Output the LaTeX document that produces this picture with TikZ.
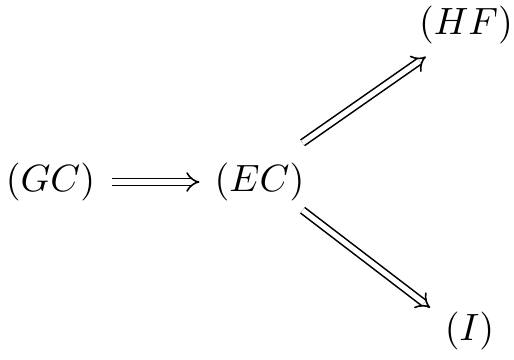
\documentclass[tikz,border=0pt]{standalone}
\usetikzlibrary{arrows.meta,calc}
\tikzset{
  lbl/.style={inner sep=0pt},
  imp/.style={double, line width=1.6pt, double distance=5.2pt, -{Implies[length=11pt,width=20pt]}}
}
\newcommand{\bigtxt}[1]{\scalebox{3.8}{$#1$}}
\begin{document}
\begin{tikzpicture}[x=1pt,y=-1pt]
\useasboundingbox (0,0) rectangle (514,359);
\node[lbl] (GC) at (50.5,182) {\bigtxt{(GC)}};
\node[lbl] (EC) at (259.5,182) {\bigtxt{(EC)}};
\node[lbl] (HF) at (466,24.5) {\bigtxt{(HF)}};
\node[lbl] (I) at (469.5,331) {\bigtxt{(I)}};
\draw[imp] ([xshift=17pt]GC.east) -- ([xshift=-15pt]EC.west);
\draw[imp] ($(EC.north east)+(-2,-20)$) -- ($(HF.south west)+(7,13)$);
\draw[imp] ($(EC.south east)+(-2,9)$) -- ($(I.north west)+(-14.5,-4)$);
\end{tikzpicture}
\end{document}
